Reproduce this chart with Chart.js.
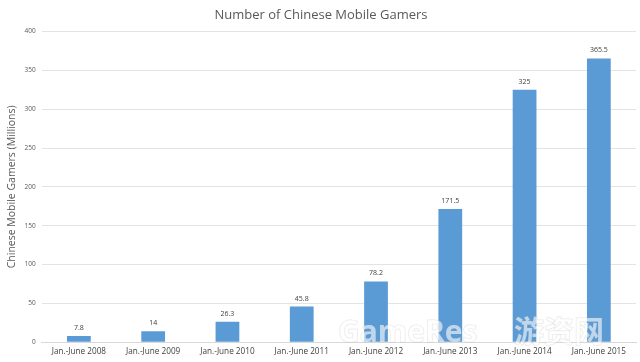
<!DOCTYPE html>
<html><head><meta charset="utf-8">
<script src="https://cdn.jsdelivr.net/npm/chart.js@4/dist/chart.umd.min.js"></script>
<style>html,body{margin:0;padding:0;background:#fff}#w{width:640px;height:362px}</style>
</head><body><div id="w"><canvas id="c" width="640" height="362"></canvas></div>
<script>
const categories = ["Jan.-June 2008","Jan.-June 2009","Jan.-June 2010","Jan.-June 2011","Jan.-June 2012","Jan.-June 2013","Jan.-June 2014","Jan.-June 2015"];
const gamers = [7.8, 14, 26.3, 45.8, 78.2, 171.5, 325, 365.5];
const valueLabels = ["7.8","14","26.3","45.8","78.2","171.5","325","365.5"];

const labelPlugin = {
  id: 'vals',
  afterDatasetsDraw(chart) {
    const ctx = chart.ctx;
    const meta = chart.getDatasetMeta(0);
    ctx.save();
    ctx.font = '7px "Open Sans", sans-serif';
    ctx.fillStyle = '#404040';
    ctx.textAlign = 'center';
    ctx.textBaseline = 'middle';
    meta.data.forEach((bar, i) => {
      ctx.fillText(valueLabels[i], bar.x, bar.y - 8);
    });
    ctx.restore();
  }
};
const watermark = {
  id: 'wm',
  afterDraw(chart) {
    const ctx = chart.ctx;
    ctx.save();
    ctx.textAlign = 'left';
    ctx.textBaseline = 'alphabetic';
    ctx.fillStyle = 'rgba(255,255,255,0.6)';
    ctx.strokeStyle = 'rgba(160,160,160,0.25)';
    ctx.lineWidth = 1;
    ctx.font = 'bold 30px "Open Sans", sans-serif';
    ctx.strokeText('GameRes', 338, 342);
    ctx.fillText('GameRes', 338, 342);
    ctx.font = 'bold 30px "Noto Sans CJK SC", sans-serif';
    ctx.strokeText('游资网', 514, 342);
    ctx.fillText('游资网', 514, 342);
    ctx.restore();
  }
};

new Chart(document.getElementById('c'), {
  type: 'bar',
  data: {
    labels: categories,
    datasets: [{ data: gamers, backgroundColor: '#5b9bd5', barPercentage: 0.32, categoryPercentage: 1 }]
  },
  options: {
    responsive: false,
    animation: false,
    layout: { padding: { left: 6, right: 4, top: 0, bottom: 0 } },
    plugins: {
      legend: { display: false },
      tooltip: { enabled: false },
      title: { display: true, text: 'Number of Chinese Mobile Gamers', color: '#595959',
        font: { family: '"Open Sans", sans-serif', size: 13, weight: 'normal' }, padding: { top: 7, bottom: 9 } }
    },
    scales: {
      x: {
        grid: { display: false, drawTicks: false },
        border: { color: '#d9d9d9' },
        ticks: { color: '#404040', font: { family: '"Open Sans", sans-serif', size: 8.2 }, maxRotation: 0, padding: 5 }
      },
      y: {
        min: 0, max: 400,
        ticks: { stepSize: 50, color: '#595959', font: { family: '"Open Sans", sans-serif', size: 6.5 }, padding: 6 },
        grid: { color: '#e3e3e3', drawTicks: false },
        border: { display: false },
        title: { display: true, text: 'Chinese Mobile Gamers (Millions)', color: '#595959',
          font: { family: '"Open Sans", sans-serif', size: 10.5 }, padding: 0 }
      }
    }
  },
  plugins: [labelPlugin, watermark]
});
</script></body></html>
